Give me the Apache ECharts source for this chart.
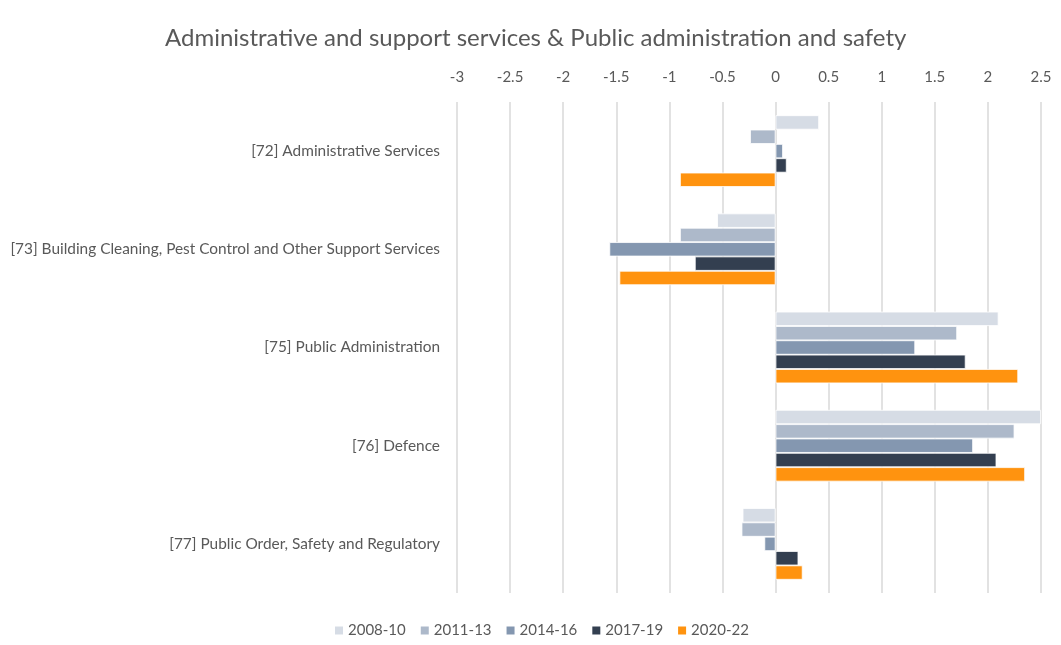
<!DOCTYPE html>
<html>
<head>
<meta charset="utf-8">
<script src="https://cdn.jsdelivr.net/npm/echarts@6/dist/echarts.min.js"></script>
<style>
  html, body { margin: 0; padding: 0; background: #fff; }
  #chart { width: 1061px; height: 645px; }
</style>
</head>
<body>
<div id="chart"></div>
<script>
// Industry groups, listed top to bottom
const categories = [
  '[72] Administrative Services',
  '[73] Building Cleaning, Pest Control and Other Support Services',
  '[75] Public Administration',
  '[76] Defence',
  '[77] Public Order, Safety and Regulatory'
];

// Period names, one bar per period in every group
const periods = ['2008-10', '2011-13', '2014-16', '2017-19', '2020-22'];

// Values per period, in the same order as the categories
const values2008_10 = [0.41, -0.55, 2.10, 2.50, -0.31];
const values2011_13 = [-0.24, -0.90, 1.71, 2.25, -0.32];
const values2014_16 = [0.07, -1.565, 1.315, 1.86, -0.105];
const values2017_19 = [0.105, -0.76, 1.79, 2.08, 0.215];
const values2020_22 = [-0.90, -1.47, 2.285, 2.35, 0.255];

const seriesValues = [values2008_10, values2011_13, values2014_16, values2017_19, values2020_22];
const colors = ['#d6dce5', '#adb9ca', '#8497b0', '#333f50', '#ff930f'];

// Value-axis ticks
const axisMin = -3;
const axisMax = 2.5;
const axisStep = 0.5;

const fontFamily = 'Lato, "Open Sans", sans-serif';
const textColor = '#595959';

const chart = echarts.init(document.getElementById('chart'), null, { renderer: 'canvas' });

chart.setOption({
  animation: false,
  backgroundColor: '#ffffff',
  color: colors,
  title: {
    text: 'Administrative and support services & Public administration and safety',
    left: 160,
    top: 21,
    textStyle: { fontFamily, fontSize: 24, fontWeight: 'normal', color: textColor }
  },
  legend: {
    data: periods,
    bottom: 2,
    left: 328,
    itemWidth: 10,
    itemHeight: 10,
    itemGap: 13,
    icon: 'rect',
    textStyle: { fontFamily, fontSize: 15, color: textColor, padding: [0, 0, 0, -1] }
  },
  grid: { left: 457, right: 20, top: 102, bottom: 52, containLabel: false },
  xAxis: {
    type: 'value',
    position: 'top',
    min: axisMin,
    max: axisMax,
    interval: axisStep,
    axisLine: { show: false },
    axisTick: { show: false },
    axisLabel: { fontFamily, fontSize: 15, color: textColor, margin: 17 },
    splitLine: { show: true, lineStyle: { color: '#d9d9d9', width: 1.5 } }
  },
  yAxis: {
    type: 'category',
    data: categories,
    inverse: true,
    axisLine: { show: false },
    axisTick: { show: false },
    axisLabel: { fontFamily, fontSize: 15.4, color: textColor, margin: 17 }
  },
  series: periods.map((name, i) => ({
    name,
    type: 'bar',
    data: seriesValues[i],
    barGap: '0%',
    barCategoryGap: '27%',
    itemStyle: { color: colors[i], borderColor: '#ffffff', borderWidth: 0.8 }
  }))
});
</script>
</body>
</html>
